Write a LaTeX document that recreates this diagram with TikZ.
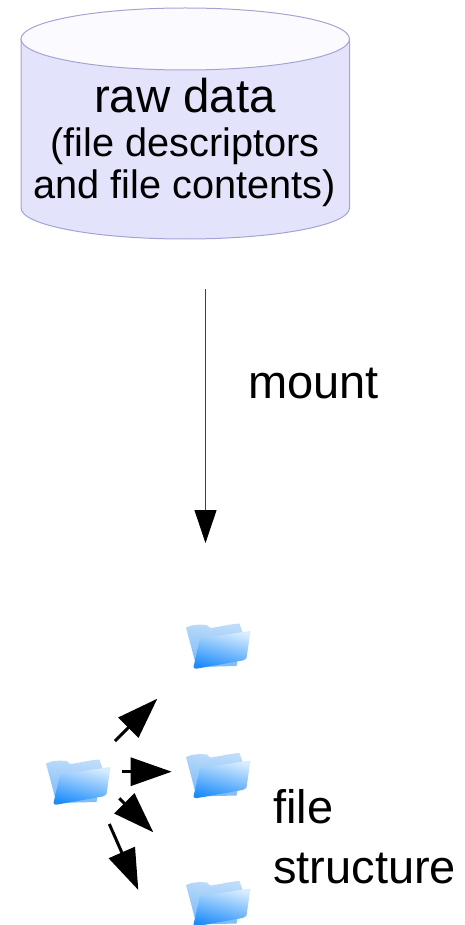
\documentclass[tikz,border=0pt]{standalone}
\usepackage{fontspec}
\setmainfont{Liberation Sans}
\usetikzlibrary{arrows.meta}
\definecolor{dbfill}{HTML}{E3E3FB}
\definecolor{dbtop}{HTML}{FBFBFF}
\definecolor{dbline}{HTML}{A4A4D4}
\definecolor{backtop}{HTML}{BFDDFA}
\definecolor{backbot}{HTML}{78B8F8}
\definecolor{fronttop}{HTML}{D8ECFF}
\definecolor{frontbot}{HTML}{1C8CFA}
\tikzset{
  x=1pt,y=-1pt,
  bigtip/.style={line width=3pt,-{Triangle[length=41pt,width=28pt]}},
  label/.style={anchor=base west,inner sep=0pt,font=\fontsize{47}{50}\selectfont},
  dbtext/.style={anchor=base,inner sep=0pt,font=\fontsize{39.7}{42}\selectfont},
  folderbox/.style={inner sep=0pt,minimum width=65pt,minimum height=45pt},
  pics/folder/.style={code={
    \path[top color=backtop,bottom color=backbot,shading angle=-8]
      (-32.5,-18.5) -- (-27,-20.5) .. controls (-22,-21.5) and (-17,-21.5) .. (-12,-21) -- (-8,-18)
      .. controls (0,-19) and (12,-22) .. (21,-22.5) -- (24,-14) -- (18,20) -- (-22,21) -- cycle;
    \path[top color=fronttop,bottom color=frontbot,shading angle=-14]
      (-18.5,-7.5) -- (32,-15) -- (28,12) .. controls (27,13) and (26,14) .. (24,14.5) -- (-21,22.5) .. controls (-23,23) and (-24.5,23) .. (-25,21) -- cycle;
  }},
}
\begin{document}
\begin{tikzpicture}
\useasboundingbox (0,0) rectangle (465,925);
% cylinder
\draw[dbline,fill=dbfill,line width=1pt] (21,39) -- (21,208) arc[start angle=180,end angle=360,x radius=164.25pt,y radius=31pt] -- (349.5,39) -- cycle;
\draw[dbline,fill=dbtop,line width=1pt] (185.25,39) ellipse[x radius=164.25pt,y radius=31pt];
\node[inner sep=0pt,anchor=base,font=\fontsize{47.4}{50}\selectfont] (rawdata) at (185,113) {raw data};
\node[dbtext] (rawsub1) at (185,157) {(file descriptors};
\node[dbtext] (rawsub2) at (184.5,199) {and file contents)};
% mount
\coordinate (mstart) at (205.5,289);
\coordinate (mend) at (205.5,543);
\draw[line width=0.9pt,black!75,-{Triangle[length=33pt,width=22pt,black]}] (mstart) -- (mend);
\node[label] (mount) at (248,398) {mount};
% folders
\node[folderbox] (f1) at (218.5,646) {};
\node[folderbox] (f2) at (218.5,775.5) {};
\node[folderbox] (f3) at (218.5,903.5) {};
\node[folderbox] (f0) at (78.5,782) {};
\pic at (f1) {folder};
\pic at (f2) {folder};
\pic at (f3) {folder};
\pic at (f0) {folder};
% arrows
\coordinate (a1s) at (115,741); \coordinate (a1e) at (157.3,698.7);
\coordinate (a2s) at (122,771.7); \coordinate (a2e) at (171.7,771.7);
\coordinate (a3s) at (119.3,798.3); \coordinate (a3e) at (153.3,832.3);
\coordinate (a4s) at (109.3,824); \coordinate (a4e) at (138.3,890);
\draw[bigtip] (a1s) -- (a1e);
\draw[bigtip] (a2s) -- (a2e);
\draw[bigtip] (a3s) -- (a3e);
\draw[bigtip] (a4s) -- (a4e);
\node[label] (file) at (273,823.5) {file};
\node[label] (structure) at (273,883) {structure};
\end{tikzpicture}
\end{document}
